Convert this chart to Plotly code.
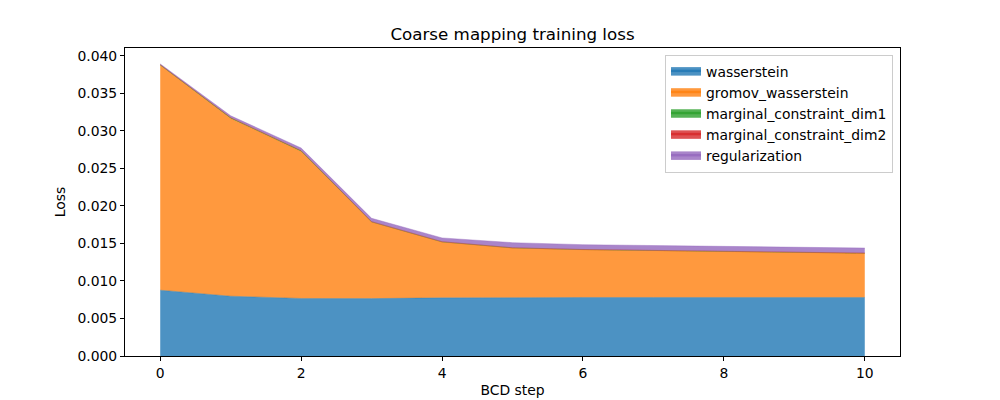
import plotly.graph_objects as go

steps = list(range(11))
wasserstein = [0.00877, 0.00797, 0.00767, 0.00765, 0.00775, 0.0078, 0.0078, 0.0078, 0.0078, 0.0078, 0.0078]
gromov_wasserstein = [0.0300, 0.0237, 0.0196, 0.0102, 0.00744, 0.0066, 0.00637, 0.00624, 0.00611, 0.00602, 0.00589]
marginal_constraint_dim1 = [0.00005, 0.00008, 0.00008, 0.00004, 0.00003, 0.00002, 0.00002, 0.00002, 0.00002, 0.00002, 0.00002]
marginal_constraint_dim2 = [0.00002, 0.00003, 0.00003, 0.00002, 0.00002, 0.00001, 0.00001, 0.00001, 0.00001, 0.00001, 0.00001]
regularization = [0.0001, 0.00025, 0.00035, 0.00045, 0.0005, 0.00068, 0.00064, 0.00064, 0.00064, 0.00063, 0.00067]

series = [
    ("wasserstein", wasserstein, "rgba(31,119,180,0.8)"),
    ("gromov_wasserstein", gromov_wasserstein, "rgba(255,127,14,0.8)"),
    ("marginal_constraint_dim1", marginal_constraint_dim1, "rgba(44,160,44,0.8)"),
    ("marginal_constraint_dim2", marginal_constraint_dim2, "rgba(214,39,40,0.8)"),
    ("regularization", regularization, "rgba(148,103,189,0.8)"),
]

fig = go.Figure()
for name, vals, col in series:
    fig.add_trace(go.Scatter(
        x=steps, y=vals, name=name, mode="lines", stackgroup="one",
        line=dict(width=0.5, color=col), fillcolor=col, legendgroup=name,
    ))

font = "DejaVu Sans"
fs = 13.9
axis_common = dict(
    showline=True, linecolor="black", linewidth=1, mirror=True,
    ticks="outside", ticklen=4, tickwidth=1, tickcolor="black",
    showgrid=False, zeroline=False, automargin=False,
    tickfont=dict(family=font, size=fs, color="black"),
)
fig.update_layout(
    width=1000, height=400,
    margin=dict(l=125, r=100, t=48, b=44),
    paper_bgcolor="white", plot_bgcolor="white",
    font=dict(family=font, size=fs, color="black"),
    title=dict(text="Coarse mapping training loss", x=0.5125, xanchor="center",
               y=1 - 34 / 400, yanchor="middle", yref="container",
               font=dict(family=font, size=16.7, color="black")),
    xaxis=dict(range=[-0.5, 10.5], tickvals=[0, 2, 4, 6, 8, 10],
               title=dict(text="BCD step", standoff=5, font=dict(family=font, size=fs)),
               **axis_common),
    yaxis=dict(range=[0, 0.04106], tickvals=[0.0, 0.005, 0.01, 0.015, 0.02, 0.025, 0.03, 0.035, 0.04],
               tickformat=".3f",
               title=dict(text="Loss", standoff=8, font=dict(family=font, size=fs)),
               **axis_common),
    legend=dict(x=0.991, y=0.977, xanchor="right", yanchor="top",
                traceorder="normal", bordercolor="#cccccc", borderwidth=1,
                bgcolor="rgba(255,255,255,0.8)",
                font=dict(family=font, size=fs), tracegroupgap=0, itemsizing="constant",
                itemwidth=30),
    showlegend=True,
)

fig.write_html("out.html", config={"displayModeBar": False},
               post_script="document.body.style.margin='0px';document.body.style.overflow='hidden';")
